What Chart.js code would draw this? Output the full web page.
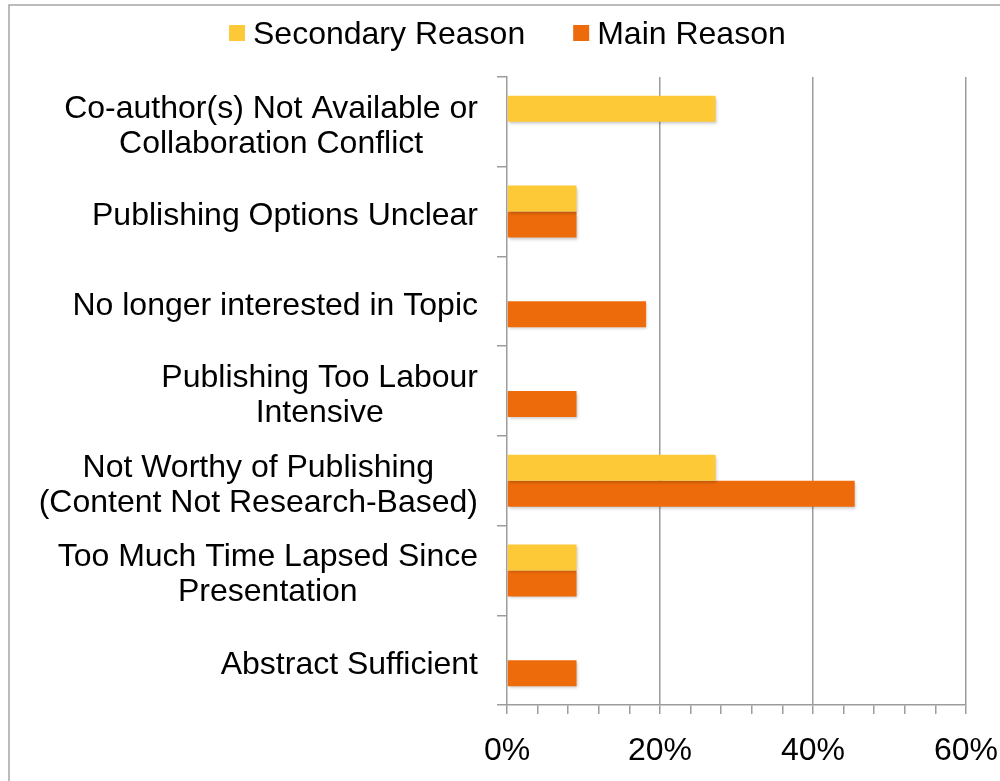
<!DOCTYPE html>
<html lang="en">
<head>
    <meta charset="UTF-8">
    <title>Reasons for not publishing</title>
    <script src="https://cdn.jsdelivr.net/npm/chart.js"></script>
    <style>
        body {
            margin: 0;
            background: #fff;
        }
        canvas {
            display: block;
        }
    </style>
</head>
<body>
    <canvas id="reasons-chart" width="1000" height="781"></canvas>

    <script>
        // data
        const categories = [
            ['Co-author(s) Not Available or', 'Collaboration Conflict'],
            ['Publishing Options Unclear'],
            ['No longer interested in Topic'],
            ['Publishing Too Labour', 'Intensive'],
            ['Not Worthy of Publishing', '(Content Not Research-Based)'],
            ['Too Much Time Lapsed Since', 'Presentation'],
            ['Abstract Sufficient']
        ];
        const seriesNames = ['Secondary Reason', 'Main Reason'];
        const secondaryReason = [27.27, 9.09, 0, 0, 27.27, 9.09, 0];
        const mainReason = [0, 9.09, 18.18, 9.09, 45.45, 9.09, 9.09];
        const xMin = 0;
        const xMax = 60;
        const xMajorStep = 20;
        const xMinorStep = 4;

        const FONT = "'Liberation Sans', Helvetica, Arial, sans-serif";
        const GRID = '#9c9c9c';
        const YELLOW = '#FDC937';
        const ORANGE = '#EE6B0B';

        // thin frame round the picture, like the screenshot
        const framePlugin = {
            id: 'frame',
            beforeDraw(chart) {
                const ctx = chart.ctx;
                ctx.save();
                ctx.strokeStyle = '#a5a5a5';
                ctx.lineWidth = 1.5;
                ctx.beginPath();
                ctx.moveTo(9, chart.height);
                ctx.lineTo(9, 5);
                ctx.lineTo(chart.width, 5);
                ctx.stroke();
                ctx.restore();
            }
        };

        // soft shadow under the bars
        const shadowPlugin = {
            id: 'barShadow',
            beforeDatasetsDraw(chart) {
                const ctx = chart.ctx;
                ctx.save();
                ctx.shadowColor = 'rgba(0,0,0,0.22)';
                ctx.shadowBlur = 3;
                ctx.shadowOffsetX = 1;
                ctx.shadowOffsetY = 2;
            },
            afterDatasetsDraw(chart) {
                chart.ctx.restore();
            }
        };

        // category labels: block right-aligned to the axis, lines centred in the block
        const yLabelPlugin = {
            id: 'yLabels',
            afterDraw(chart) {
                const ctx = chart.ctx;
                const yScale = chart.scales.y;
                const rightEdge = chart.chartArea.left - 29;
                const lineH = 35;
                ctx.save();
                ctx.font = '32px ' + FONT;
                ctx.fillStyle = '#000';
                ctx.textAlign = 'center';
                ctx.textBaseline = 'alphabetic';
                categories.forEach((lines, i) => {
                    const y = yScale.getPixelForValue(i);
                    let widest = 0;
                    lines.forEach(l => { widest = Math.max(widest, ctx.measureText(l).width); });
                    const cx = rightEdge - widest / 2;
                    lines.forEach((l, j) => {
                        const ly = y + (j - (lines.length - 1) / 2) * lineH + 13.5;
                        ctx.fillText(l, cx, ly);
                    });
                });
                ctx.restore();
            }
        };

        // legend on top
        const legendPlugin = {
            id: 'topLegend',
            afterDraw(chart) {
                const ctx = chart.ctx;
                ctx.save();
                ctx.font = '32px ' + FONT;
                ctx.textBaseline = 'alphabetic';
                ctx.textAlign = 'left';
                let x = 229;
                chart.data.datasets.forEach(ds => {
                    ctx.fillStyle = ds.backgroundColor;
                    ctx.fillRect(x, 25, 16, 16);
                    ctx.fillStyle = '#000';
                    ctx.fillText(ds.label, x + 24, 44);
                    x += 24 + ctx.measureText(ds.label).width + 48;
                });
                ctx.restore();
            }
        };

        const ctx = document.getElementById('reasons-chart').getContext('2d');
        const reasonsChart = new Chart(ctx, {
            type: 'bar',
            data: {
                labels: categories,
                datasets: [
                    {
                        label: seriesNames[0],
                        data: secondaryReason,
                        backgroundColor: YELLOW,
                        borderWidth: 0,
                        barPercentage: 1,
                        categoryPercentage: 0.58
                    },
                    {
                        label: seriesNames[1],
                        data: mainReason,
                        backgroundColor: ORANGE,
                        borderWidth: 0,
                        barPercentage: 1,
                        categoryPercentage: 0.58
                    }
                ]
            },
            options: {
                indexAxis: 'y',
                responsive: false,
                animation: false,
                layout: {
                    padding: { top: 77, right: 34, bottom: 0, left: 0 }
                },
                plugins: {
                    legend: { display: false },
                    tooltip: { enabled: false }
                },
                scales: {
                    x: {
                        position: 'bottom',
                        min: xMin,
                        max: xMax,
                        afterFit: s => {
                            s.height = 76;
                            s.paddingLeft = 0;
                            s.paddingRight = 0;
                        },
                        border: { color: GRID, width: 1.5 },
                        grid: {
                            color: c => (c.tick && c.tick.value % xMajorStep === 0 && c.tick.value > 0) ? GRID : 'rgba(0,0,0,0)',
                            lineWidth: 1.5,
                            tickColor: GRID,
                            tickLength: 9
                        },
                        ticks: {
                            stepSize: xMinorStep,
                            autoSkip: false,
                            maxRotation: 0,
                            padding: 18,
                            color: '#000',
                            font: { family: FONT, size: 32 },
                            callback: v => (v % xMajorStep === 0 ? v + '%' : '')
                        }
                    },
                    y: {
                        type: 'category',
                        offset: true,
                        afterFit: s => { s.width = 507; },
                        border: { color: GRID, width: 1.5 },
                        grid: {
                            offset: true,
                            drawOnChartArea: false,
                            tickColor: GRID,
                            tickLength: 10,
                            lineWidth: 1.5
                        },
                        ticks: { display: false }
                    }
                }
            },
            plugins: [framePlugin, shadowPlugin, yLabelPlugin, legendPlugin]
        });
    </script>
</body>
</html>
